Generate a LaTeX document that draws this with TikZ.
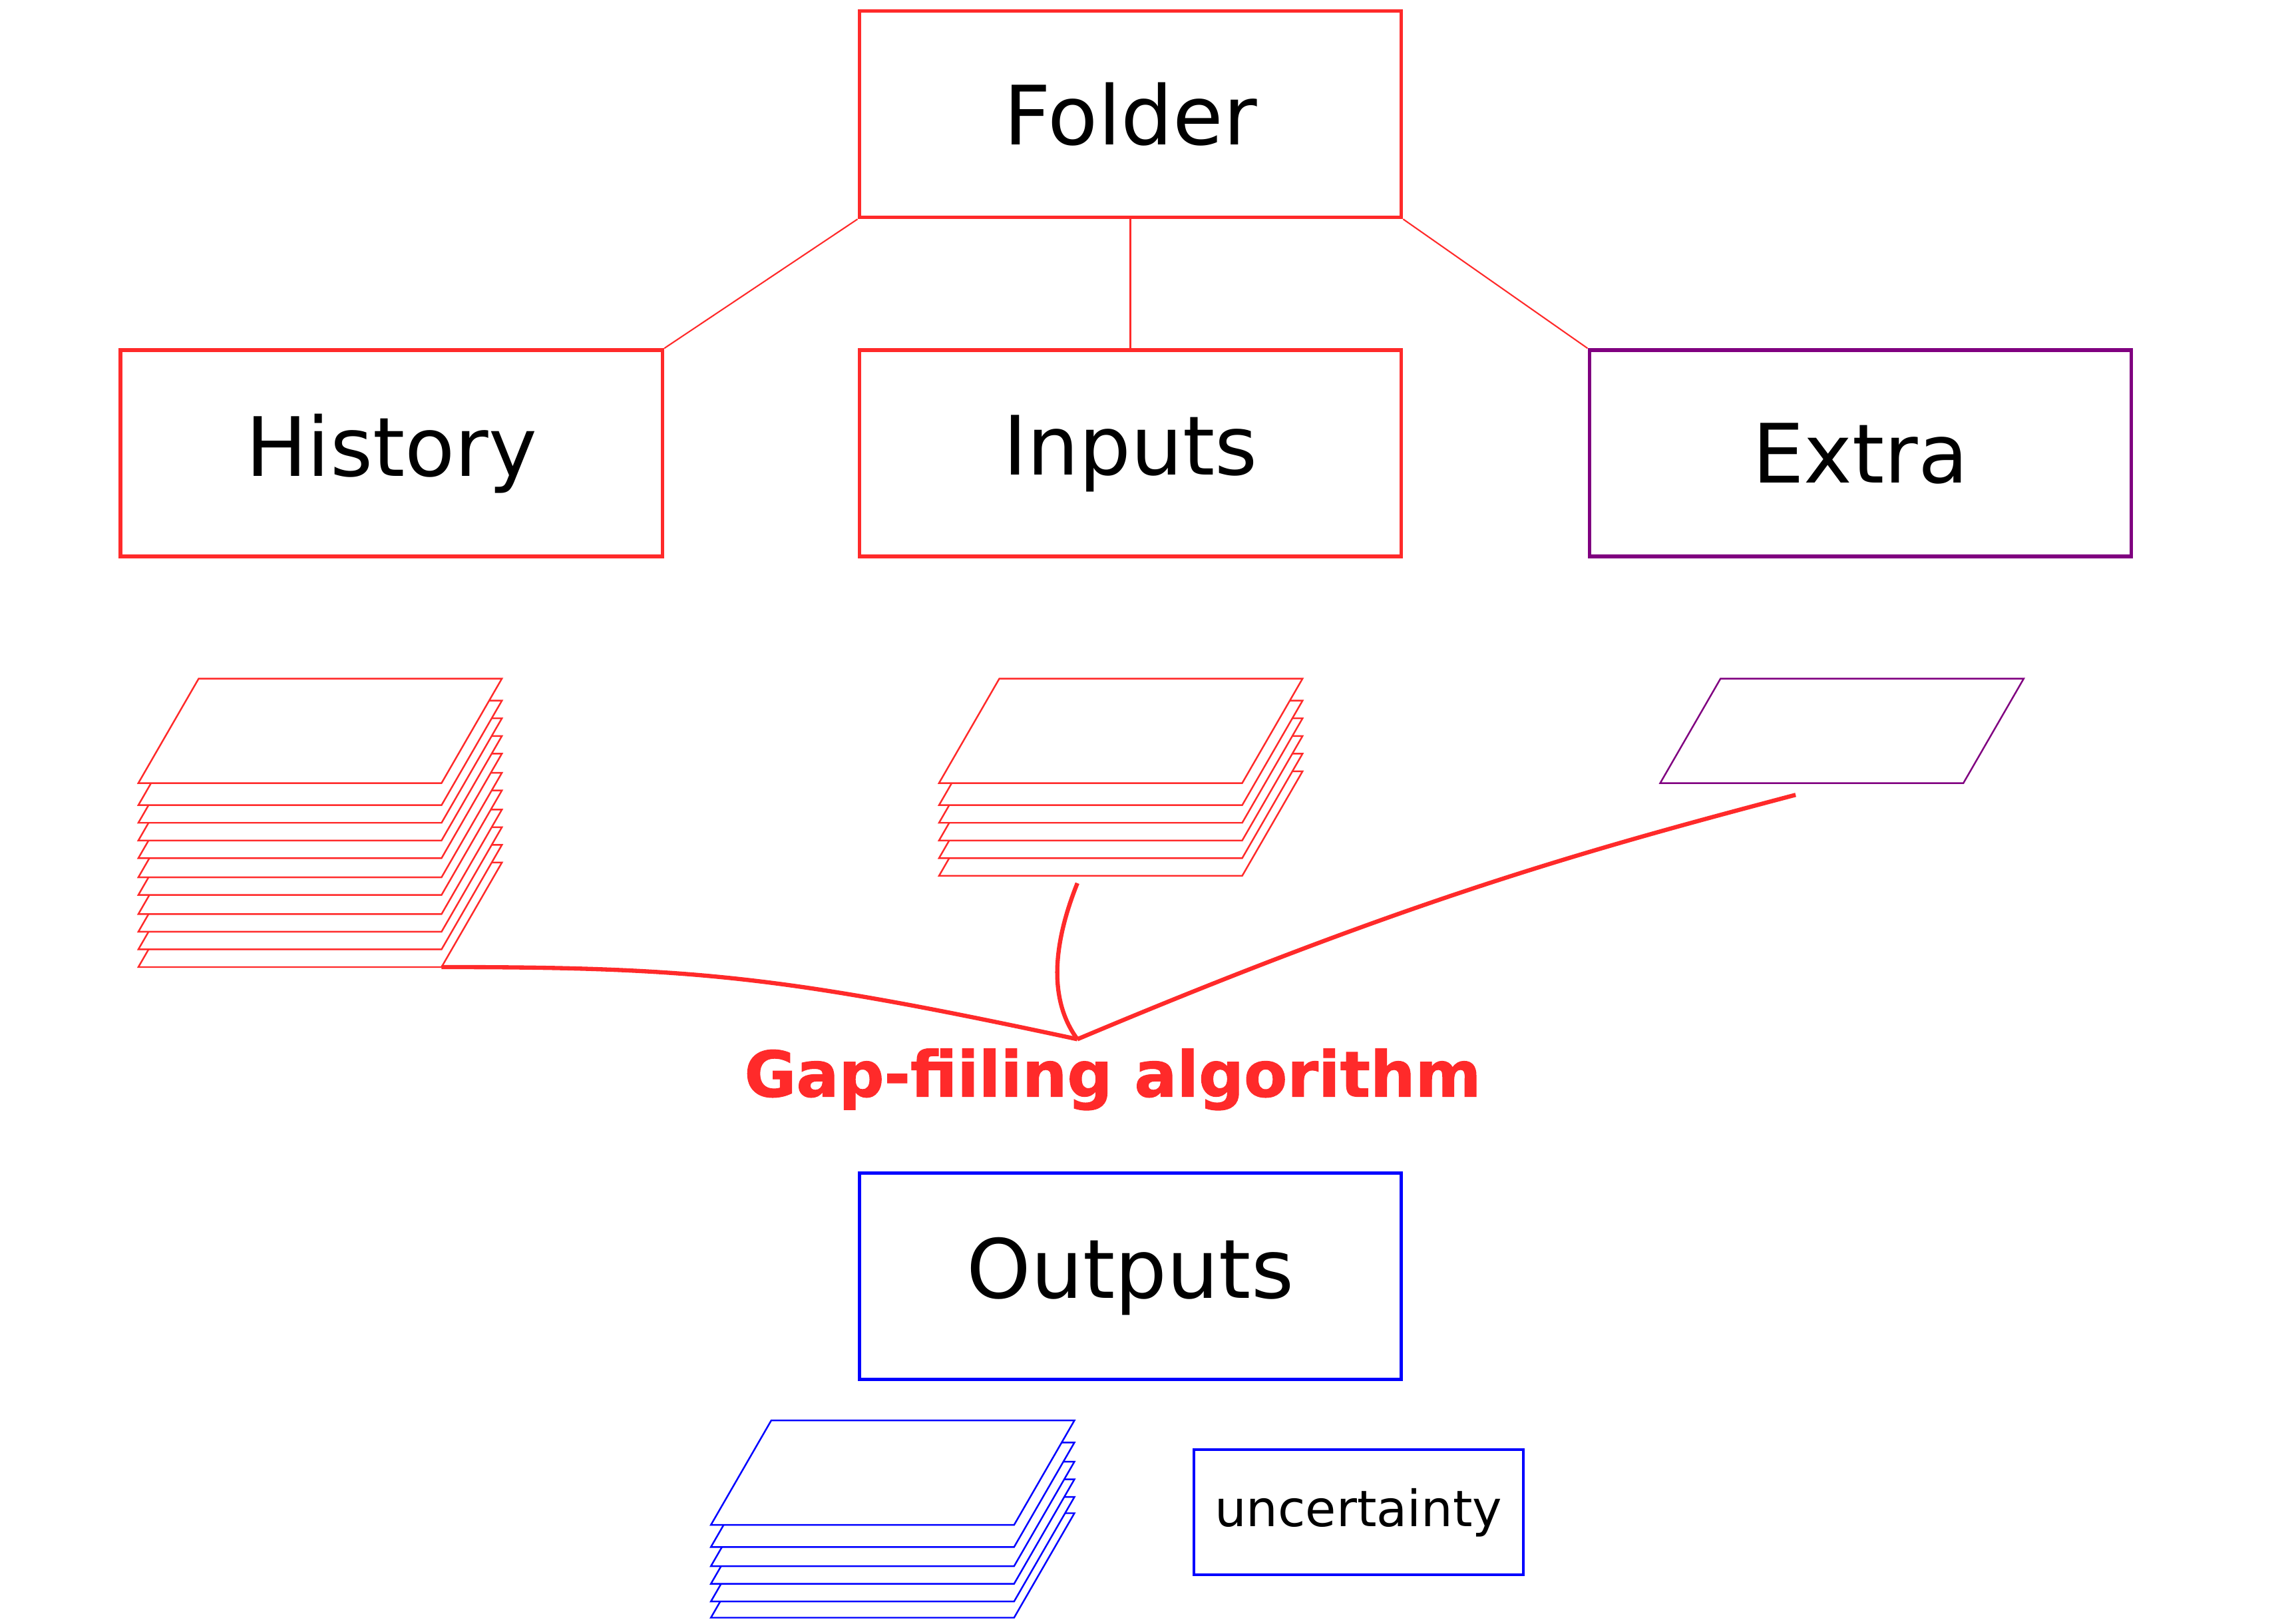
\documentclass[tikz,border=0pt]{standalone}
\usepackage{fontspec}
\setmainfont{DejaVu Sans}
\newfontfamily\gapfont[FakeBold=1.2]{DejaVu Sans Bold}
\usetikzlibrary{calc}
\definecolor{gapred}{RGB}{255,42,42}
\definecolor{xpurple}{RGB}{128,0,128}
\definecolor{outblue}{RGB}{0,0,255}
\tikzset{
 box/.style={draw, line width=1.6pt, minimum width=8.14cm, minimum height=3.1cm, inner sep=0pt, font=\fontsize{35}{42}\selectfont},
 sheet/.style={line width=0.7pt, fill=white},
 link/.style={gapred, line width=0.6pt},
 flow/.style={gapred, line width=1.8pt},
}

\begin{document}
\begin{tikzpicture}[x=0.022115cm, y=-0.022115cm]
\useasboundingbox (0,0) rectangle (1560,1103.3);
% folder tree
\node[box, draw=gapred] (folder) at (768,77.5) {Folder};
\node[box, draw=gapred] (history) at (266,308) {History};
\node[box, draw=gapred] (inputs) at (768,308) {Inputs};
\node[box, draw=xpurple] (extra) at (1264,308) {Extra};
\draw[link] (folder.south west) -- (history.north east);
\draw[link] (folder.south) -- (inputs.north);
\draw[link] (folder.south east) -- (extra.north west);

% stacks of maps
\foreach \d in {125,113,101,89,76,64,51,39,27,15,0}
 \draw[sheet, draw=gapred] (135,461+\d) --++(206,0) --++(-41,71) --++(-206,0) -- cycle;
\foreach \d in {63,51,39,27,15,0}
 \draw[sheet, draw=gapred] (679,461+\d) --++(206,0) --++(-41,71) --++(-206,0) -- cycle;
\draw[sheet, draw=xpurple] (1169,461) --++(206,0) --++(-41,71) --++(-206,0) -- cycle;
\coordinate (histend) at (300,657);
\coordinate (inend) at (732,600);
\coordinate (extend) at (1220,540);
\coordinate (merge) at (732,706);

% gap filling
\draw[flow] (histend) .. controls +(170,0) and +(-200,-43) .. (merge);
\draw[flow] (inend) .. controls +(-14,35) and +(-22,-30) .. (merge);
\draw[flow] (extend) .. controls +(-140,37) and +(228,-96) .. (merge);
\node[gapred, anchor=base, inner sep=0pt, font=\fontsize{27}{32}\gapfont] (algo) at (756,745) {Gap-fiiling algorithm};

% results
\node[box, draw=outblue] (outputs) at (768,867) {Outputs};
\foreach \d in {63,52,40,28,15,0}
 \draw[sheet, draw=outblue] (524,965+\d) --++(206,0) --++(-41,71) --++(-206,0) -- cycle;
\node[draw=outblue, line width=1.1pt, minimum width=4.95cm, minimum height=1.88cm, inner sep=0pt, font=\fontsize{21.4}{26}\selectfont] (uncert) at (923,1027.5) {uncertainty};
\end{tikzpicture}
\end{document}
